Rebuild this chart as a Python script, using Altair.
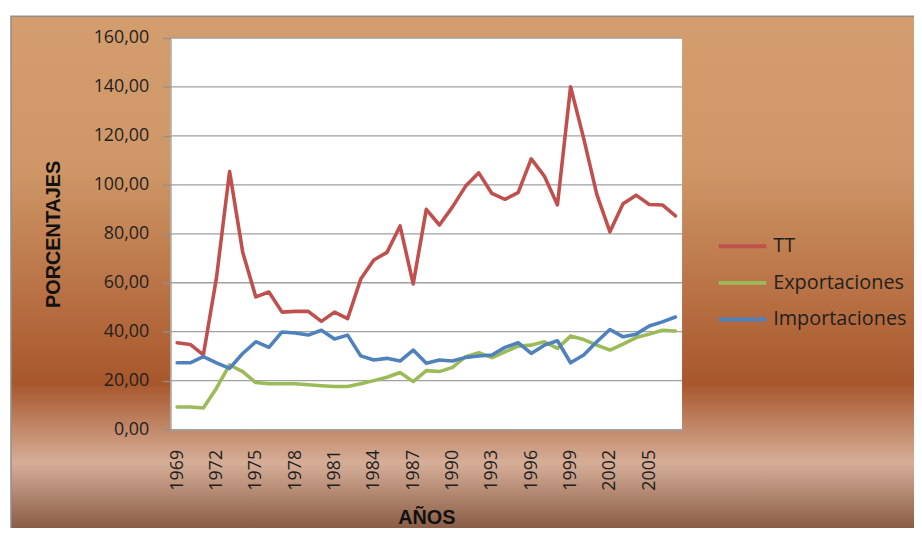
import altair as alt
import pandas as pd

years = list(range(1969, 2008))
tt = [35.5, 34.8, 30.5, 62.0, 105.5, 72.5, 54.2, 56.2, 48.0, 48.3, 48.3, 44.2, 48.0,
      45.3, 61.5, 69.3, 72.4, 83.2, 59.5, 90.0, 83.6, 91.0, 99.5, 104.9, 96.5, 94.1,
      96.8, 110.6, 103.6, 91.8, 140.1, 119.0, 96.1, 80.8, 92.3, 95.8, 92.0, 91.8, 87.3]
exportaciones = [9.2, 9.2, 8.8, 16.9, 26.4, 23.7, 19.2, 18.7, 18.7, 18.7, 18.3, 17.9, 17.6,
                 17.6, 18.7, 20.0, 21.4, 23.3, 19.6, 24.1, 23.7, 25.4, 29.8, 31.4, 29.4, 31.8,
                 34.1, 34.5, 35.9, 33.2, 38.2, 36.8, 34.5, 32.5, 34.9, 37.6, 39.0, 40.6, 40.3]
importaciones = [27.3, 27.3, 29.8, 27.3, 25.0, 31.1, 35.9, 33.6, 39.9, 39.5, 38.6, 40.6, 37.0,
                 38.6, 30.1, 28.4, 29.1, 28.0, 32.5, 27.1, 28.4, 28.0, 29.5, 30.1, 30.5, 33.6,
                 35.5, 31.1, 34.5, 36.3, 27.3, 30.5, 35.9, 40.9, 37.9, 39.0, 42.3, 44.0, 46.0]
series_names = ["TT", "Exportaciones", "Importaciones"]
series_colors = ["#C0504D", "#9BBB59", "#4F81BD"]
y_ticks = [0, 20, 40, 60, 80, 100, 120, 140, 160]
x_label_years = list(range(1969, 2006, 3))

rows = []
for name, vals in zip(series_names, [tt, exportaciones, importaciones]):
    for yr, v in zip(years, vals):
        rows.append({"Año": yr, "Serie": name, "Valor": v})
df = pd.DataFrame(rows)

W, H = 516, 395
x_scale = alt.Scale(type="point", padding=0.5, domain=years)
y_scale = alt.Scale(domain=[0, 160], nice=False, zero=True)

y_axis = alt.Axis(
    values=y_ticks,
    labelExpr="replace(format(datum.value, '.2f'), '.', ',')",
    grid=False,
    tickSize=8,
    tickColor="#909090",
    tickWidth=1.3,
    domainColor="#A0A0A0",
    domainWidth=1.3,
    labelPadding=14,
    labelFont="Open Sans",
    labelFontSize=18,
    labelColor="#1F1F1F",
    title="PORCENTAJES",
    titleFont="Liberation Sans",
    titleFontWeight="bold",
    titleFontSize=20,
    titleColor="#111111",
    titleAngle=270,
    titleX=-118,
    titleY=H / 2,
    titleAlign="center",
    titleBaseline="middle",
    zindex=1,
)

dummy = pd.DataFrame({"a": [0]})

background = alt.Chart(dummy).mark_rect(
    color=alt.Gradient(
        gradient="linear",
        x1=0, x2=0, y1=0, y2=1,
        stops=[
            alt.GradientStop(offset=0.0, color="#D49D6D"),
            alt.GradientStop(offset=0.29, color="#CF9767"),
            alt.GradientStop(offset=0.705, color="#A8572C"),
            alt.GradientStop(offset=0.857, color="#D6AE98"),
            alt.GradientStop(offset=1.0, color="#7E5038"),
        ],
    ),
    stroke="#8E8E8E",
    strokeWidth=1.5,
).encode(x=alt.value(-161), x2=alt.value(W + 260), y=alt.value(-22), y2=alt.value(H + 109))

plot_bg = alt.Chart(dummy).mark_rect(color="white").encode(
    x=alt.value(0), x2=alt.value(W), y=alt.value(0), y2=alt.value(H)
)

grid = alt.Chart(pd.DataFrame({"Valor": y_ticks})).mark_rule(
    color="#A0A0A0", strokeWidth=1.3
).encode(y=alt.Y("Valor:Q", scale=y_scale, axis=y_axis))

lines = alt.Chart(df).mark_line(strokeWidth=3.6, strokeJoin="round", strokeCap="round").encode(
    x=alt.X(
        "Año:O",
        scale=x_scale,
        axis=alt.Axis(
            values=x_label_years,
            labelAngle=270,
            labelAlign="right",
            labelBaseline="middle",
            labelPadding=20,
            ticks=False,
            grid=False,
            domainColor="#A0A0A0",
            domainWidth=1.3,
            labelFont="Open Sans",
            labelFontSize=18,
            labelColor="#1F1F1F",
            title="AÑOS",
            titleFont="Liberation Sans",
            titleFontWeight="bold",
            titleFontSize=20,
            titleColor="#111111",
            titleX=W / 2,
            titleY=89,
            titleAlign="center",
            titleBaseline="middle",
            zindex=1,
        ),
    ),
    y=alt.Y("Valor:Q", scale=y_scale, axis=y_axis),
    color=alt.Color(
        "Serie:N",
        sort=series_names,
        scale=alt.Scale(domain=series_names, range=series_colors),
        legend=alt.Legend(
            title=None,
            orient="none",
            legendX=560,
            legendY=193,
            symbolType="M-1.6,0H1.6",
            symbolSize=900,
            symbolStrokeWidth=4,
            labelFont="Open Sans",
            labelFontSize=20,
            labelColor="#1F1F1F",
            labelOffset=14,
            rowPadding=10,
            padding=0,
        ),
    ),
)

chart = alt.layer(background, plot_bg, grid, lines).properties(
    width=W,
    height=H,
    autosize=alt.AutoSizeParams(type="none"),
    padding={"left": 164, "top": 28, "right": 234, "bottom": 97},
).configure_view(stroke=None).configure(background="white")

chart.save("out.html", embed_options={"renderer": "svg", "actions": False})
